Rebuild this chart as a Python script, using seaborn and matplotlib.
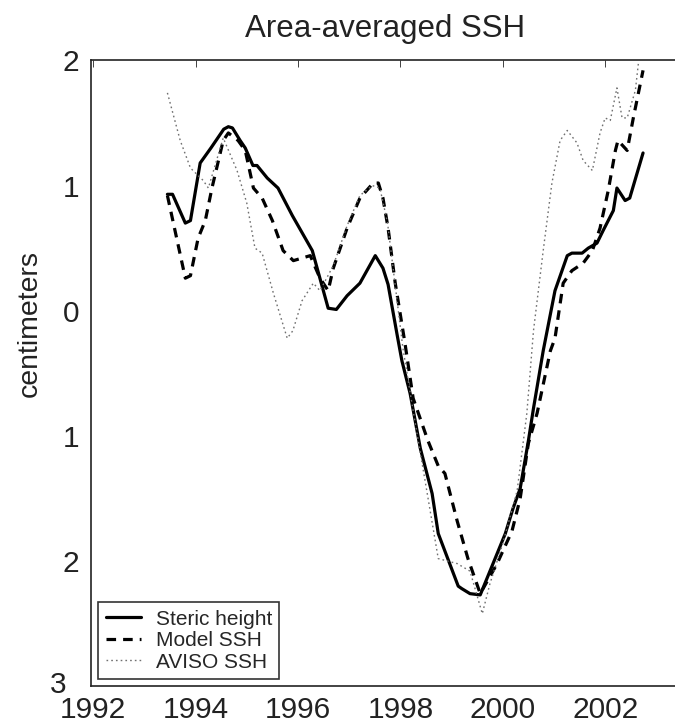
import numpy as np
import pandas as pd
import matplotlib
matplotlib.use("Agg")
import matplotlib.pyplot as plt
import matplotlib.transforms as mtransforms
import seaborn as sns

# values (years, centimeters)
steric_t = [1993.45, 1993.55, 1993.8, 1993.9, 1994.09, 1994.3, 1994.55, 1994.64, 1994.72,
            1994.87, 1994.97, 1995.12, 1995.2, 1995.4, 1995.61, 1995.89, 1996.28, 1996.59,
            1996.75, 1996.96, 1997.21, 1997.51, 1997.66, 1997.76, 1997.94, 1998.03, 1998.19,
            1998.39, 1998.62, 1998.74, 1999.13, 1999.2, 1999.36, 1999.56, 1999.75, 2000.05,
            2000.2, 2000.34, 2000.5, 2000.6, 2000.79, 2001.02, 2001.26, 2001.35, 2001.55,
            2001.67, 2001.84, 2001.96, 2002.16, 2002.23, 2002.39, 2002.48, 2002.74]
steric_h = [0.93, 0.93, 0.70, 0.72, 1.18, 1.30, 1.45, 1.47, 1.46,
            1.36, 1.30, 1.16, 1.16, 1.06, 0.98, 0.76, 0.48, 0.02,
            0.01, 0.12, 0.22, 0.44, 0.34, 0.21, -0.20, -0.40, -0.66,
            -1.10, -1.46, -1.78, -2.20, -2.22, -2.26, -2.27, -2.08, -1.78,
            -1.58, -1.42, -1.04, -0.78, -0.32, 0.16, 0.44, 0.46, 0.46,
            0.50, 0.54, 0.64, 0.80, 0.98, 0.88, 0.90, 1.26]

model_t = [1993.45, 1993.8, 1993.9, 1994.05, 1994.19, 1994.32, 1994.54, 1994.64, 1994.83,
           1994.97, 1995.13, 1995.3, 1995.5, 1995.71, 1995.91, 1996.24, 1996.43, 1996.59,
           1996.69, 1996.96, 1997.21, 1997.47, 1997.57, 1997.66, 1997.76, 1997.9, 1998.09,
           1998.25, 1998.54, 1998.74, 1998.87, 1999.11, 1999.32, 1999.56, 1999.89, 2000.18,
           2000.34, 2000.5, 2000.67, 2000.93, 2001.02, 2001.18, 2001.35, 2001.57, 2001.75,
           2001.9, 2002.06, 2002.2, 2002.25, 2002.43, 2002.55, 2002.74]
model_h = [0.92, 0.26, 0.28, 0.58, 0.72, 0.98, 1.36, 1.42, 1.36,
           1.28, 0.98, 0.90, 0.72, 0.48, 0.40, 0.44, 0.26, 0.16,
           0.34, 0.66, 0.90, 1.02, 1.02, 0.90, 0.66, 0.22, -0.26,
           -0.70, -1.04, -1.24, -1.30, -1.68, -1.98, -2.26, -2.02, -1.76,
           -1.50, -1.06, -0.82, -0.32, -0.22, 0.22, 0.32, 0.38, 0.48,
           0.66, 0.96, 1.28, 1.36, 1.28, 1.54, 1.92]

aviso_t = [1993.45, 1993.7, 1993.9, 1994.15, 1994.25, 1994.54, 1994.81, 1995.0, 1995.16,
           1995.3, 1995.52, 1995.79, 1995.9, 1996.08, 1996.3, 1996.43, 1996.69, 1996.96,
           1997.21, 1997.45, 1997.6, 1997.75, 1997.9, 1998.05, 1998.25, 1998.5, 1998.74,
           1999.11, 1999.36, 1999.6, 1999.75, 2000.0, 2000.28, 2000.47, 2000.6, 2000.79,
           2000.96, 2001.12, 2001.26, 2001.45, 2001.57, 2001.75, 2001.9, 2002.0, 2002.1,
           2002.23, 2002.33, 2002.43, 2002.59, 2002.65]
aviso_h = [1.74, 1.36, 1.14, 1.04, 0.98, 1.38, 1.12, 0.86, 0.50,
           0.46, 0.14, -0.22, -0.16, 0.08, 0.22, 0.16, 0.36, 0.68,
           0.92, 1.00, 0.98, 0.70, 0.20, -0.30, -0.80, -1.40, -1.98,
           -2.02, -2.08, -2.42, -2.18, -1.86, -1.44, -0.82, -0.16, 0.48,
           1.02, 1.36, 1.44, 1.34, 1.20, 1.12, 1.42, 1.54, 1.52,
           1.78, 1.54, 1.54, 1.76, 1.98]

year_ticks = [1992, 1994, 1996, 1998, 2000, 2002]
cm_ticks = [2, 1, 0, -1, -2, -3]
cm_tick_labels = ["2", "1", "0", "1", "2", "3"]

sns.set_style("white")
plt.rcParams["font.family"] = ["Liberation Sans", "DejaVu Sans"]

fig = plt.figure(figsize=(6.75, 7.27), dpi=100)
# axes run a bit past the right edge of the picture, like the reference
ax = fig.add_axes([0.135, 0.056, 0.87, 0.861])

sns.lineplot(x=steric_t, y=steric_h, ax=ax, color="black", lw=2.3,
             label="Steric height", estimator=None, sort=False)
sns.lineplot(x=model_t, y=model_h, ax=ax, color="black", lw=2.3,
             label="Model SSH", estimator=None, sort=False)
sns.lineplot(x=aviso_t, y=aviso_h, ax=ax, color="#707070", lw=1.0,
             label="AVISO SSH", estimator=None, sort=False)
ax.lines[1].set_dashes([3.0, 2.2])
ax.lines[2].set_dashes([1.2, 2.2])

ax.set_xlim(1991.96, 2003.43)
ax.set_ylim(-3, 2)
ax.set_xticks(year_ticks)
ax.set_yticks(cm_ticks)
ax.set_yticklabels(cm_tick_labels)
ax.tick_params(direction="in", length=5, width=0.6, labelsize=21.5, colors="#222222",
               top=True, right=False)
ax.tick_params(axis="x", pad=7)
ax.tick_params(axis="y", pad=8.5)
for sp in ax.spines.values():
    sp.set_linewidth(1.2)
    sp.set_color("#222222")

# the bottom y label sits up and left of the 1992 label in the reference
lab3 = ax.get_yticklabels()[-1]
lab3.set_transform(lab3.get_transform() +
                   mtransforms.ScaledTranslation(-13 / 100, 4 / 100, fig.dpi_scale_trans))

ax.set_title("Area-averaged SSH", fontsize=22.5, pad=17, color="#222222")
ax.set_ylabel("centimeters", fontsize=20.5, color="#222222")
ax.yaxis.set_label_coords(-0.083, 0.58)
ax.set_xlabel("")

leg = ax.legend(loc="lower left", fontsize=15, frameon=True, fancybox=False,
                handlelength=1.7, borderpad=0.35, labelspacing=0.12, handletextpad=0.7,
                borderaxespad=0.35)
leg.get_frame().set_edgecolor("black")
leg.get_frame().set_linewidth(1.2)

fig.savefig("out.png", dpi=100)
